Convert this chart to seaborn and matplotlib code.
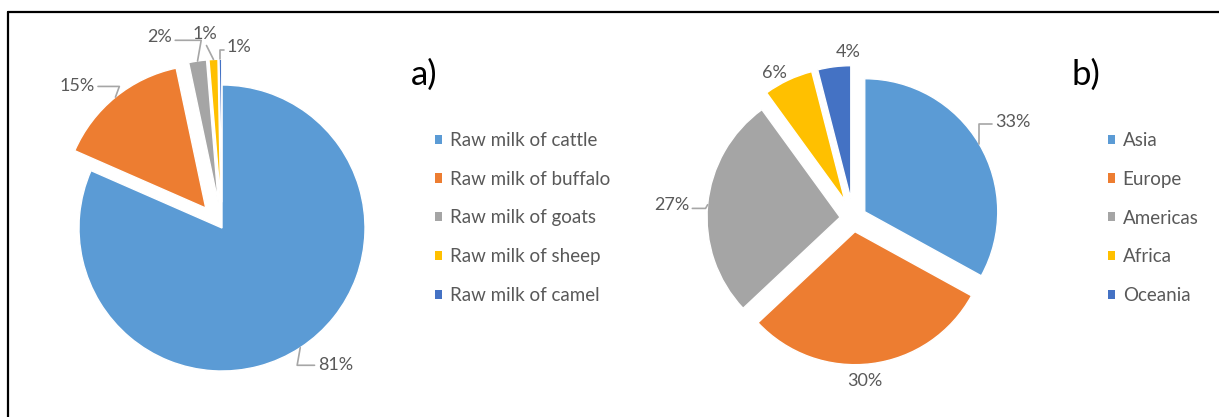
import numpy as np
import matplotlib
matplotlib.use("Agg")
import matplotlib.pyplot as plt
from matplotlib.lines import Line2D
from matplotlib.patches import Patch
import seaborn as sns

# data
milk_types = ["Raw milk of cattle", "Raw milk of buffalo", "Raw milk of goats",
              "Raw milk of sheep", "Raw milk of camel"]
milk_share = [81, 15, 2, 1, 0.3]
milk_labels = ["81%", "15%", "2%", "1%", "1%"]

regions = ["Asia", "Europe", "Americas", "Africa", "Oceania"]
region_share = [33, 30, 27, 6, 4]
region_labels = ["33%", "30%", "27%", "6%", "4%"]

palette = sns.color_palette(["#5B9BD5", "#ED7D31", "#A5A5A5", "#FFC000", "#4472C4"])

sns.set_theme(style="white")
plt.rcParams['font.family'] = ['Lato', 'DejaVu Sans']
TXT = "#595959"
LEAD = "#A6A6A6"
LBL_FS = 13

W, H = 1219, 417
fig = plt.figure(figsize=(W / 100, H / 100), dpi=100)


def pie_axes(cx, cy, r, span=2.0):
    # axes placed so that the pie of radius 1 is r pixels wide, centred at (cx, cy) from top-left
    size = 2 * span * r
    ax = fig.add_axes([(cx - span * r) / W, (H - cy - span * r) / H, size / W, size / H])
    return ax, span


def draw_pie(ax, span, values, explode):
    wedges, _ = ax.pie(values, colors=palette, startangle=90, counterclock=False,
                       explode=explode, wedgeprops=dict(edgecolor="white", linewidth=1))
    ax.set_xlim(-span, span)
    ax.set_ylim(-span, span)
    ax.axis("off")
    return wedges


def put_label(ax, wedge, text, pos, ha, conn=None, relpos=(0.5, 0.5)):
    th = np.deg2rad((wedge.theta1 + wedge.theta2) / 2)
    cx, cy = wedge.center
    xy = (cx + wedge.r * np.cos(th), cy + wedge.r * np.sin(th))
    if conn is None:
        ax.text(pos[0], pos[1], text, ha=ha, va="center", fontsize=LBL_FS, color=TXT)
        return
    ax.annotate(text, xy=xy, xytext=pos, ha=ha, va="center", fontsize=LBL_FS, color=TXT,
                arrowprops=dict(arrowstyle="-", color=LEAD, lw=1.2, connectionstyle=conn,
                                relpos=relpos, shrinkA=0, shrinkB=0))


# a) milk types
ax_a, sp = pie_axes(222, 228, 143)
w_a = draw_pie(ax_a, sp, milk_share, [0, 0.18, 0.18, 0.18, 0.18])
put_label(ax_a, w_a[0], milk_labels[0], (0.67, -0.96), "left", "angle,angleA=0,angleB=80", (0, 0.5))
put_label(ax_a, w_a[1], milk_labels[1], (-0.89, 0.99), "right", "angle,angleA=0,angleB=70", (1, 0.5))
put_label(ax_a, w_a[2], milk_labels[2], (-0.35, 1.335), "right", "angle,angleA=0,angleB=80", (1, 0.3))
put_label(ax_a, w_a[3], milk_labels[3], (-0.12, 1.355), "center", "arc3", (0.5, 0))
put_label(ax_a, w_a[4], milk_labels[4], (0.035, 1.265), "left", "angle,angleA=0,angleB=90", (0, 0.3))

# b) regions
ax_b, sp = pie_axes(853.3, 218.5, 133)
w_b = draw_pie(ax_b, sp, region_share, [0.1, 0.1, 0.1, 0.15, 0.15])
put_label(ax_b, w_b[0], region_labels[0], (1.065, 0.726), "left", "angle,angleA=0,angleB=90", (0, 0.4))
put_label(ax_b, w_b[1], region_labels[1], (0.088, -1.222), "center")
put_label(ax_b, w_b[2], region_labels[2], (-1.235, 0.10), "right", "angle,angleA=0,angleB=60", (1, 0.3))
put_label(ax_b, w_b[3], region_labels[3], (-0.596, 1.094), "center")
put_label(ax_b, w_b[4], region_labels[4], (-0.04, 1.252), "center")

# legends
for names, x, y in [(milk_types, 435, 132), (regions, 1108, 132)]:
    handles = [Patch(facecolor=c, edgecolor="none") for c in palette]
    fig.legend(handles, names, loc="upper left", bbox_to_anchor=(x / W, 1 - y / H),
               frameon=False, fontsize=13.5, labelcolor=TXT, handlelength=0.38,
               handleheight=0.38, handletextpad=0.4, labelspacing=1.16,
               borderpad=0, borderaxespad=0)

fig.text(411 / W, 1 - 75 / H, "a)", fontsize=25, va="center", ha="left", color="black")
fig.text(1072 / W, 1 - 75 / H, "b)", fontsize=25, va="center", ha="left", color="black")

# frame around the whole picture
fig.add_artist(Line2D([8 / W, 1], [1 - 12 / H] * 2, transform=fig.transFigure, color="black", lw=1.6))
fig.add_artist(Line2D([8 / W] * 2, [0, 1 - 12 / H], transform=fig.transFigure, color="black", lw=1.6))

fig.savefig("out.png", dpi=100)
